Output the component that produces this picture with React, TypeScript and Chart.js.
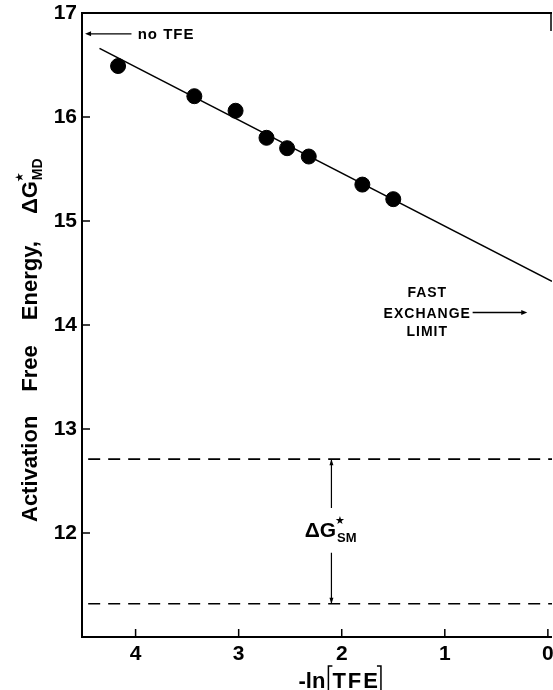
import React, { useEffect, useRef } from "react";
import { Chart, registerables } from "chart.js";

Chart.register(...registerables);

// ---- data ----
const lnTFE = [4.17, 3.43, 3.03, 2.73, 2.53, 2.32, 1.8, 1.5];
const deltaGMD = [16.49, 16.2, 16.06, 15.8, 15.7, 15.62, 15.35, 15.21];
const fitX = [4.35, -0.04];
const fitY = [16.66, 14.42];
const smLevels = [12.71, 11.32];
const dashX = [4.46, -0.04];
const smArrowX = 2.1;
const smArrowGap = [12.24, 11.81];
const xTickValues = [0, 1, 2, 3, 4];
const yTickValues = [12, 13, 14, 15, 16, 17];

// annotation anchors (data coordinates)
const noTFEArrow = { from: 4.04, to: 4.49, y: 16.8 };
const noTFEText = { x: 3.98, y: 16.75 };
const fastText = { x: 1.17, lines: [14.27, 14.07, 13.89] };
const fastArrow = { from: 0.73, to: 0.2, y: 14.12 };
const smText = { x: 2.36, y: 11.96 };

const FF = '"Liberation Sans", Arial, Helvetica, sans-serif';

function arrowHead(ctx: CanvasRenderingContext2D, x: number, y: number, dx: number, dy: number, len = 6, half = 2.5) {
  const px = -dy, py = dx;
  ctx.beginPath();
  ctx.moveTo(x, y);
  ctx.lineTo(x - dx * len + px * half, y - dy * len + py * half);
  ctx.lineTo(x - dx * len - px * half, y - dy * len - py * half);
  ctx.closePath();
  ctx.fill();
}

const decorPlugin = {
  id: "decor",
  afterDraw(chart: any) {
    const { ctx, chartArea: a, scales } = chart;
    const xs = scales.x, ys = scales.y;
    ctx.save();
    ctx.strokeStyle = "#000";
    ctx.fillStyle = "#000";
    // axes frame (left, bottom, top)
    ctx.lineWidth = 2;
    ctx.beginPath();
    ctx.moveTo(a.right, a.top);
    ctx.lineTo(a.left, a.top);
    ctx.lineTo(a.left, a.bottom);
    ctx.lineTo(a.right, a.bottom);
    ctx.stroke();
    // short piece of the right frame near the top
    ctx.lineWidth = 1.5;
    ctx.beginPath();
    ctx.moveTo(a.right - 1, a.top);
    ctx.lineTo(a.right - 1, a.top + 18);
    ctx.stroke();
    // inward ticks
    ctx.beginPath();
    for (const v of yTickValues) {
      const y = ys.getPixelForValue(v);
      ctx.moveTo(a.left, y);
      ctx.lineTo(a.left + 8, y);
    }
    for (const v of xTickValues) {
      const x = xs.getPixelForValue(v);
      ctx.moveTo(x, a.bottom);
      ctx.lineTo(x, a.bottom - 8);
    }
    ctx.stroke();

    // ΔG_SM arrowheads
    const ax = xs.getPixelForValue(smArrowX);
    arrowHead(ctx, ax, ys.getPixelForValue(smLevels[0]), 0, -1, 6, 2);
    arrowHead(ctx, ax, ys.getPixelForValue(smLevels[1]), 0, 1, 6, 2);

    // no TFE arrow
    ctx.lineWidth = 1.3;
    const ny = ys.getPixelForValue(noTFEArrow.y);
    const nx1 = xs.getPixelForValue(noTFEArrow.from);
    const nx2 = xs.getPixelForValue(noTFEArrow.to);
    ctx.beginPath();
    ctx.moveTo(nx1, ny);
    ctx.lineTo(nx2 + 4, ny);
    ctx.stroke();
    arrowHead(ctx, nx2, ny, -1, 0, 6, 2.5);
    ctx.font = `bold 15px ${FF}`;
    ctx.textAlign = "left";
    ctx.textBaseline = "alphabetic";
    (ctx as any).letterSpacing = "1px";
    ctx.fillText("no TFE", xs.getPixelForValue(noTFEText.x), ys.getPixelForValue(noTFEText.y));

    // FAST EXCHANGE LIMIT
    ctx.font = `bold 14px ${FF}`;
    ctx.textAlign = "center";
    const fx = xs.getPixelForValue(fastText.x);
    ["FAST", "EXCHANGE", "LIMIT"].forEach((t, i) => {
      ctx.fillText(t, fx, ys.getPixelForValue(fastText.lines[i]));
    });
    const fy = ys.getPixelForValue(fastArrow.y);
    const fx1 = xs.getPixelForValue(fastArrow.from);
    const fx2 = xs.getPixelForValue(fastArrow.to);
    ctx.beginPath();
    ctx.moveTo(fx1, fy);
    ctx.lineTo(fx2 - 4, fy);
    ctx.stroke();
    arrowHead(ctx, fx2, fy, 1, 0, 6, 2.5);
    (ctx as any).letterSpacing = "0px";

    // ΔG*_SM label
    const sx = xs.getPixelForValue(smText.x);
    const sy = ys.getPixelForValue(smText.y);
    ctx.textAlign = "left";
    ctx.font = `bold 21px ${FF}`;
    ctx.fillText("ΔG", sx, sy);
    const gw = ctx.measureText("ΔG").width;
    ctx.font = `bold 13px ${FF}`;
    ctx.fillText("SM", sx + gw + 1, sy + 5);
    ctx.font = `11px "DejaVu Sans"`;
    ctx.fillText("★", sx + gw - 1, sy - 13);

    // y axis title (rotated)
    ctx.save();
    ctx.translate(37, 522);
    ctx.rotate(-Math.PI / 2);
    ctx.textAlign = "left";
    ctx.font = `bold 22px ${FF}`;
    let tx = 0;
    const gaps = [24, 25, 27];
    ["Activation", "Free", "Energy,"].forEach((w, i) => {
      ctx.fillText(w, tx, 0);
      tx += ctx.measureText(w).width + gaps[i];
    });
    ctx.fillText("ΔG", tx, 0);
    tx += ctx.measureText("ΔG").width;
    ctx.font = `bold 14px ${FF}`;
    ctx.fillText("MD", tx + 1, 5);
    ctx.font = `11px "DejaVu Sans"`;
    ctx.fillText("★", tx - 1, -14);
    ctx.restore();

    // x axis title: -ln[TFE]
    ctx.font = `bold 22px ${FF}`;
    ctx.textAlign = "left";
    const cx = xs.getPixelForValue(2);
    const base = 688;
    const w1 = ctx.measureText("-ln").width;
    (ctx as any).letterSpacing = "2px";
    const w2 = ctx.measureText("TFE").width;
    const total = w1 + 6 + w2 + 6;
    const x0 = cx - total / 2;
    (ctx as any).letterSpacing = "0px";
    ctx.fillText("-ln", x0, base);
    const b1 = x0 + w1 + 3;
    (ctx as any).letterSpacing = "2px";
    ctx.fillText("TFE", b1 + 4, base);
    (ctx as any).letterSpacing = "0px";
    const b2 = b1 + 4 + w2 + 1;
    ctx.lineWidth = 1.5;
    ctx.beginPath();
    ctx.moveTo(b1 + 4, 666);
    ctx.lineTo(b1, 666);
    ctx.lineTo(b1, 692);
    ctx.moveTo(b2 - 4, 666);
    ctx.lineTo(b2, 666);
    ctx.lineTo(b2, 692);
    ctx.stroke();

    ctx.restore();
  },
};

export default function App() {
  const ref = useRef<HTMLCanvasElement | null>(null);
  useEffect(() => {
    if (!ref.current) return;
    const line = (xa: number[], ya: number[]) => xa.map((x, i) => ({ x, y: ya[i] }));
    const seg = { showLine: true, pointRadius: 0, borderColor: "#000" };
    const chart = new Chart(ref.current, {
      type: "scatter",
      data: {
        datasets: [
          {
            data: line(lnTFE, deltaGMD),
            pointRadius: 7.5,
            pointBackgroundColor: "#000",
            pointBorderColor: "#000",
            showLine: false,
          },
          { ...seg, data: line(fitX, fitY), borderWidth: 1.6 },
          { ...seg, data: line(dashX, [smLevels[0], smLevels[0]]), borderWidth: 1.6, borderDash: [12, 8] },
          { ...seg, data: line(dashX, [smLevels[1], smLevels[1]]), borderWidth: 1.6, borderDash: [12, 8] },
          { ...seg, data: line([smArrowX, smArrowX], [smLevels[0], smArrowGap[0]]), borderWidth: 1.2 },
          { ...seg, data: line([smArrowX, smArrowX], [smArrowGap[1], smLevels[1]]), borderWidth: 1.2 },
        ],
      },
      options: {
        responsive: false,
        animation: false,
        devicePixelRatio: 1,
        layout: { autoPadding: false, padding: { top: 13, right: 1, left: 0, bottom: 0 } },
        plugins: { legend: { display: false }, tooltip: { enabled: false } },
        scales: {
          x: {
            type: "linear",
            reverse: true,
            min: -0.04,
            max: 4.52,
            grid: { display: false, drawTicks: false, tickLength: 0 },
            border: { display: false },
            ticks: {
              stepSize: 1,
              includeBounds: false,
              color: "#000",
              padding: 5,
              font: { family: FF, size: 21, weight: "bold" },
            },
            afterFit: (s: any) => {
              s.height = 53;
              s.paddingLeft = 0;
              s.paddingRight = 0;
            },
          },
          y: {
            type: "linear",
            min: 11,
            max: 17,
            grid: { display: false, drawTicks: false, tickLength: 0 },
            border: { display: false },
            ticks: {
              stepSize: 1,
              includeBounds: false,
              color: "#000",
              padding: 5,
              font: { family: FF, size: 21, weight: "bold" },
              callback: (v: any) => (v === 11 ? "" : String(v)),
            },
            afterFit: (s: any) => {
              s.width = 82;
              s.paddingTop = 0;
              s.paddingBottom = 0;
            },
          },
        },
      } as any,
      plugins: [decorPlugin],
    });
    return () => chart.destroy();
  }, []);
  return (
    <div style={{ position: "absolute", left: 0, top: 0, width: 553, height: 690, background: "#fff" }}>
      <canvas ref={ref} width={553} height={690} style={{ display: "block" }} />
    </div>
  );
}
